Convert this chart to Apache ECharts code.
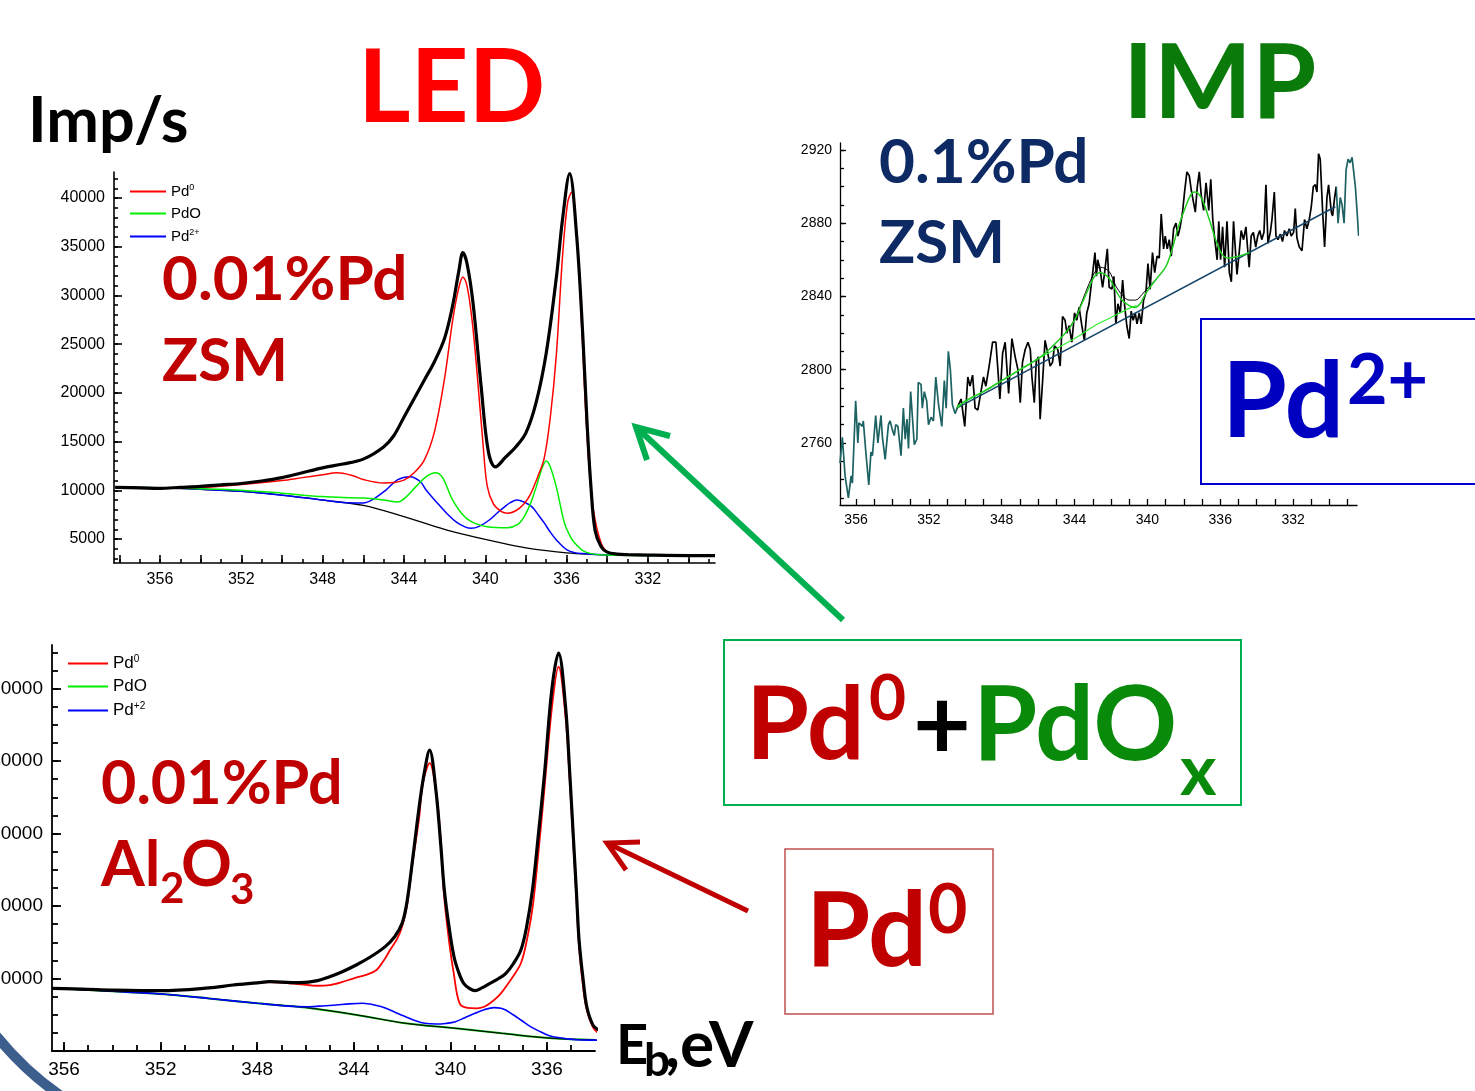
<!DOCTYPE html>
<html>
<head>
<meta charset="utf-8">
<script src="https://cdn.jsdelivr.net/npm/echarts@6/dist/echarts.min.js"></script>
<style>
  html, body { margin: 0; padding: 0; background: #fff; }
  #main { width: 1475px; height: 1091px; }
</style>
</head>
<body>
<div id="main"></div>
<script>
// ---- LED, 0.01%Pd / ZSM  (eV, imp/s)
var ledZsmExp = [[358.2,10300],[357,10250],[356,10200],[355,10300],[354,10400],[353,10550],[352,10700],[351,10950],[350,11300],[349,11800],[348,12300],[347,12700],[346,13200],[345,14450],[344.5,15600],[344,17500],[343.5,19400],[343,21300],[342.5,23200],[342,25600],[341.6,29000],[341.3,32500],[341.1,34400],[340.9,33300],[340.6,29200],[340.2,20600],[339.85,14000],[339.5,12400],[339,13400],[338.5,14450],[338,15900],[337.5,19000],[337,24100],[336.5,31900],[336.2,37800],[335.85,42500],[335.5,36000],[335.2,25800],[335,17200],[334.8,10300],[334.6,5900],[334.3,4200],[334,3650],[333.5,3450],[333,3400],[332,3350],[330,3300],[328.7,3300]];
var ledZsmPd0 = [[358.2,10300],[356,10250],[354,10300],[352,10600],[350,11000],[349,11300],[348,11600],[347.3,11800],[346.5,11500],[346,11100],[345,10750],[344.5,10800],[344,11050],[343.5,11800],[343,13100],[342.5,16000],[342,21500],[341.6,27500],[341.3,30800],[341.1,31900],[340.9,31000],[340.65,27500],[340.4,22000],[340.1,14500],[339.9,10400],[339.6,8600],[339.2,7800],[338.9,7650],[338.5,7900],[338.1,8600],[337.8,9500],[337.4,11500],[337.1,13300],[336.8,17500],[336.5,24000],[336.2,34000],[335.95,39500],[335.75,40600],[335.55,37500],[335.35,30900],[335.15,22000],[335,15800],[334.8,10000],[334.6,7000],[334.3,4600],[334,3700],[333.5,3450],[333,3400],[331,3330],[328.7,3300]];
var ledZsmPdO = [[358.2,10300],[356,10250],[354,10150],[352,10000],[350,9700],[348,9350],[346,9200],[345,9000],[344.3,8800],[343.9,9300],[343.4,10400],[342.9,11400],[342.45,11800],[342.1,11300],[341.6,9000],[341,7250],[340.5,6600],[339.9,6250],[338.9,6150],[338.4,6500],[338.1,7250],[337.8,8500],[337.5,10300],[337.2,12300],[337,13000],[336.8,12400],[336.5,10300],[336.1,6600],[335.8,5200],[335.6,4600],[335.2,3800],[334.8,3500],[334,3350],[332,3300],[328.7,3300]];
var ledZsmPd2 = [[358.2,10300],[356,10250],[354,10100],[352,9900],[350,9500],[348,9000],[347,8750],[346,8700],[345.5,9100],[344.9,10000],[344.3,11100],[343.7,11400],[343.2,10900],[342.9,10000],[342.4,8800],[341.9,7650],[341.4,6700],[341,6250],[340.7,6100],[340.3,6300],[339.8,6950],[339.4,7700],[339.05,8300],[338.75,8750],[338.45,9000],[338.1,8800],[337.7,8300],[337.4,7500],[337.1,6650],[336.8,5700],[336.5,4900],[336,3900],[335.6,3600],[335.2,3500],[334.5,3400],[333,3330],[328.7,3300]];
var ledZsmBg = [[358.2,10300],[356,10250],[354,10100],[352,9880],[350,9500],[348,9000],[346,8450],[344,7300],[342,6000],[341,5450],[340,4950],[339,4500],[338,4100],[337,3800],[336,3580],[335,3450],[334,3380],[332,3330],[328.7,3300]];
var ledZsmYLabels = [5000,10000,15000,20000,25000,30000,35000,40000];
var ledZsmXLabels = [356,352,348,344,340,336,332];

// ---- IMP, 0.1%Pd / ZSM
var impRaw = [[356.88,2749],[356.75,2763],[356.6,2742],[356.42,2730],[356.27,2742],[356.2,2738],[356.02,2783],[355.9,2760],[355.84,2771],[355.65,2769],[355.6,2772],[355.47,2756],[355.3,2737],[355.18,2755],[355.1,2753],[354.92,2775],[354.8,2760],[354.63,2775],[354.55,2763],[354.4,2751],[354.22,2770],[354.13,2772],[354,2767],[353.9,2764],[353.82,2770],[353.7,2769],[353.53,2753],[353.4,2779],[353.3,2762],[353.2,2773],[353.12,2757],[353,2788],[352.8,2759],[352.66,2762],[352.58,2793],[352.43,2792],[352.36,2779],[352.25,2788],[352.12,2783],[352.02,2770],[351.88,2774],[351.75,2772],[351.62,2796],[351.47,2781],[351.38,2780],[351.29,2769],[351.15,2794],[351.05,2779],[350.93,2810],[350.82,2800],[350.71,2781],[350.56,2776],[350.41,2780],[350.23,2784],[350.03,2769],
[349.86,2796],[349.74,2791],[349.6,2797],[349.46,2779],[349.31,2778],[349.19,2785],[349,2796],[348.87,2791],[348.69,2802],[348.5,2815],[348.32,2815],[348.21,2800],[348.1,2784],[347.95,2809],[347.81,2815],[347.62,2787],[347.44,2817],[347.26,2807],[347.11,2800],[346.98,2782],[346.86,2804],[346.71,2811],[346.56,2815],[346.43,2811],[346.34,2796],[346.21,2782],[346.1,2805],[345.98,2807],[345.89,2773],[345.76,2793],[345.62,2816],[345.47,2809],[345.34,2802],[345.21,2804],[345.1,2813],[344.92,2811],[344.79,2802],[344.66,2829],[344.52,2827],[344.42,2820],[344.3,2824],[344.15,2815],[344,2831],[343.88,2827],[343.75,2834],[343.6,2824],[343.46,2816],[343.33,2831],[343.2,2836],[343.1,2845],[342.98,2855],[342.88,2864],[342.8,2851],[342.73,2860],[342.6,2855],[342.46,2845],[342.35,2853],[342.2,2866],[342.1,2845],[341.95,2844],[341.84,2851],[341.73,2825],[341.62,2836],[341.49,2831],[341.36,2849],[341.25,2835],[341.13,2824],[341,2817],[340.89,2832],[340.78,2827],[340.67,2831],[340.57,2825],[340.45,2831],[340.34,2825],[340.21,2838],[340.08,2842],[339.97,2858],[339.85,2844],[339.72,2864],[339.6,2853],[339.47,2862],[339.35,2861],[339.24,2885],[339.11,2866],[339.02,2873],[338.91,2866],[338.8,2871],[338.69,2862],[338.56,2877],[338.43,2880],[338.32,2873],[338.2,2878],[338.07,2886],[337.96,2897],[337.83,2908],[337.7,2906],[337.59,2898],[337.46,2891],[337.37,2886],[337.26,2900],[337.15,2908],[337.04,2895],[336.91,2887],[336.78,2902],[336.63,2887],[336.52,2904],[336.41,2882],[336.3,2871],[336.17,2860],[336.08,2881],[335.98,2860],[335.87,2878],[335.76,2856],[335.63,2881],[335.5,2853],[335.39,2848],[335.27,2881],[335.08,2852],[334.96,2864],[334.85,2876],[334.72,2871],[334.59,2878],[334.48,2864],[334.41,2856],[334.3,2873],[334.18,2875],[334.05,2867],[333.94,2873],[333.83,2876],[333.72,2871],[333.6,2875],[333.49,2901],[333.38,2869],[333.25,2875],[333.16,2882],[333.03,2897],[332.94,2873],[332.83,2871],[332.7,2874],[332.58,2870],[332.47,2876],[332.34,2873],[332.21,2877],[332.1,2873],[331.97,2875],[331.88,2888],[331.79,2872],[331.66,2867],[331.51,2865],[331.37,2882],[331.24,2877],[331.11,2882],[331,2889],[330.89,2900],[330.78,2901],[330.69,2897],[330.6,2918],[330.51,2915],[330.38,2887],[330.27,2867],[330.14,2894],[330.05,2901],[329.9,2886],[329.83,2884],[329.72,2894],[329.63,2900],[329.53,2880],[329.41,2894],[329.31,2890],[329.2,2880],[329.09,2909],[328.98,2915],[328.87,2913],[328.76,2916],[328.67,2917],[328.58,2900],[328.49,2887],[328.4,2873]];
var impBase = [[350.47,2779],[329.68,2889]];
var impFit = [[350.45,2779],[350,2783],[349,2788],[348,2794],[347,2800],[346,2806],[345.4,2811],[344.5,2820],[344,2827],[343.6,2836],[343.2,2845],[342.9,2851],[342.6,2853],[342.1,2850],[341.75,2843.5],[341.4,2838],[341,2835],[340.7,2834],[340.4,2836],[340.1,2841.5],[339.55,2849],[339,2856],[338.65,2865.5],[338.3,2878],[337.9,2889],[337.55,2896.5],[337.35,2897],[337,2893],[336.6,2882],[336.25,2871],[335.9,2863],[335.55,2861],[335.2,2861.5],[334.8,2862.5],[334.4,2864]];
var impTail = [[350.45,2780],[348,2794],[346,2806],[344,2817],[342.9,2824],[342,2828.5],[341,2833.5],[340.6,2835]];
var impEnv = [[344.5,2820],[344,2827.5],[343.6,2837],[343.2,2847],[342.9,2853],[342.6,2856],[342.1,2853.6],[341.75,2846],[341.4,2841],[341,2838],[340.65,2838],[340.3,2841],[339.9,2845.5],[339.55,2849]];
var impYLabels = [2760,2800,2840,2880,2920];
var impXLabels = [356,352,348,344,340,336,332];

// ---- LED, 0.01%Pd / Al2O3
var ledAlExp = [[356.5,8650],[355,8500],[354,8400],[352,8320],[350,8700],[349,9100],[348,9400],[347.5,9560],[347,9500],[346.2,9420],[345.5,9700],[345,10250],[344.5,10900],[343.9,11860],[343.3,13000],[342.7,14400],[342.3,15800],[342,17600],[341.8,20500],[341.55,26800],[341.3,33500],[341.1,38000],[340.86,41500],[340.6,36000],[340.4,28500],[340.25,22200],[340.05,17000],[339.85,13000],[339.65,10800],[339.45,9340],[339.2,8600],[338.98,8320],[338.7,8700],[338.36,9340],[338,10000],[337.7,10720],[337.4,12000],[337.08,13930],[336.85,17000],[336.6,22200],[336.35,30000],[336.1,38300],[335.8,49800],[335.52,54900],[335.23,47500],[335.05,38000],[334.9,29100],[334.78,22000],[334.67,15300],[334.5,9800],[334.35,6100],[334.1,3600],[333.87,2900]];
var ledAlPd0 = [[356.5,8650],[355,8500],[354,8400],[352,8320],[350,8700],[349,9100],[348,9400],[347.5,9500],[347,9450],[346.2,9200],[345.5,9000],[345,9100],[344.5,9500],[344,10030],[343.5,10500],[343.06,11170],[342.7,12800],[342.5,13930],[342.2,15500],[342,17140],[341.8,20000],[341.55,26350],[341.3,32000],[341.14,36900],[340.86,39700],[340.58,35500],[340.4,29000],[340.27,21800],[340.05,15000],[339.86,10700],[339.62,6600],[339.3,5950],[338.9,5890],[338.6,6100],[338.36,6580],[338,7600],[337.7,8870],[337.4,10300],[337.08,12100],[336.85,15000],[336.59,19900],[336.35,27500],[336.11,36000],[335.79,47500],[335.52,53000],[335.23,46100],[335.05,37000],[334.9,28200],[334.78,21000],[334.67,14400],[334.5,8800],[334.35,5650],[334.1,3300],[333.87,2440]];
var ledAlPd2 = [[356.5,8650],[354,8250],[352,7860],[350,7250],[348,6580],[346.5,6150],[345.86,6110],[345.2,6250],[344.74,6340],[344.2,6500],[343.62,6580],[343.1,6300],[342.67,5890],[342.2,5200],[341.86,4730],[341.5,4250],[341.06,3820],[340.58,3720],[340.2,3800],[339.79,4040],[339.4,4600],[338.98,5200],[338.6,5700],[338.19,5980],[337.9,5900],[337.71,5650],[337.4,5000],[337.08,4280],[336.7,3400],[336.27,2660],[335.9,2100],[335.63,1890],[335.2,1700],[334.67,1520],[333.87,1500]];
var ledAlBg = [[356.5,8650],[354,8250],[352,7860],[350,7250],[348,6580],[346,6000],[343.87,4970],[341.86,3820],[339.79,3130],[337.87,2440],[335.79,1750],[333.87,1520]];
var ledAlYLabels = [10000,20000,30000,40000,50000];
var ledAlXLabels = [356,352,348,344,340,336];

function steps(a, b, s) {
    var r = [];
    for (var v = a; v <= b + 1e-9; v += s) r.push(Math.round(v * 1000) / 1000);
    return r;
}

// one visible axis (line, labels, major ticks) plus one bare axis for the minor ticks
function axisPair(dim, gi, min, max, labels, major, minor, o) {
    var pos = dim === 'x' ? 'bottom' : 'left';
    var main = {
        type: 'value', gridIndex: gi, min: min, max: max, position: pos, inverse: dim === 'x',
        splitLine: { show: false },
        axisLine: { show: true, onZero: false, lineStyle: { color: '#000', width: o.lw } },
        axisTick: { show: true, inside: true, length: o.major, customValues: major, lineStyle: { color: '#000', width: o.lw } },
        axisLabel: {
            customValues: labels, color: '#000', fontSize: o.fs, fontFamily: 'Liberation Sans', margin: o.margin,
            formatter: function (v) { return String(v); }
        }
    };
    var sub = {
        type: 'value', gridIndex: gi, min: min, max: max, position: pos, inverse: dim === 'x',
        splitLine: { show: false },
        axisLine: { show: false, onZero: false },
        axisTick: { show: true, inside: true, length: o.minor, customValues: minor, lineStyle: { color: '#000', width: o.lw } },
        axisLabel: { show: false }
    };
    return [main, sub];
}

var o1 = { lw: 1.6, fs: 16, margin: 9, major: 8, minor: 4 };
var o2 = { lw: 1.3, fs: 14, margin: 8, major: 6, minor: 4 };
var o3 = { lw: 1.8, fs: 19, margin: 9, major: 9, minor: 6 };

var xAxes = [].concat(
    axisPair('x', 0, 328.7, 358.26, ledZsmXLabels, steps(330, 358, 2), steps(329, 358, 1), o1),
    axisPair('x', 1, 328.49, 356.88, impXLabels, steps(329, 356, 1), [], o2),
    axisPair('x', 2, 334.01, 356.5, ledAlXLabels, ledAlXLabels, steps(335, 356, 1), o3)
);
var yAxes = [].concat(
    axisPair('y', 0, 2537, 42669, ledZsmYLabels, ledZsmYLabels, steps(3000, 42000, 1000), o1),
    axisPair('y', 1, 2726.1, 2923.8, impYLabels, impYLabels, steps(2730, 2920, 10), o2),
    axisPair('y', 2, 0, 56000, ledAlYLabels, ledAlYLabels, steps(2500, 55000, 2500), o3)
);

function line(name, data, xi, yi, color, width, smooth) {
    var s = {
        name: name, type: 'line', data: data, xAxisIndex: xi, yAxisIndex: yi,
        symbol: 'none', smooth: smooth, clip: true,
        lineStyle: { width: width }
    };
    if (color) { s.lineStyle.color = color; s.itemStyle = { color: color }; }
    return s;
}

var series = [
    line('bg1', ledZsmBg, 0, 0, '#000', 1.3, 0.35),
    line('Pd2+', ledZsmPd2, 0, 0, '#0000ff', 1.5, 0.35),
    line('PdO', ledZsmPdO, 0, 0, '#00ee00', 1.5, 0.35),
    line('Pd0', ledZsmPd0, 0, 0, '#ff0000', 1.5, 0.35),
    line('exp1', ledZsmExp, 0, 0, '#000', 3.2, 0.35),

    line('raw2', impRaw, 2, 2, null, 1.7, false),
    line('base2', impBase, 2, 2, '#16456a', 1.5, false),
    line('tail2', impTail, 2, 2, '#33ee33', 1.2, 0.35),
    line('env2', impEnv, 2, 2, '#000', 1, 0.35),
    line('fit2', impFit, 2, 2, '#22cc22', 1.5, 0.35),

    line('PdO', ledAlBg, 4, 4, '#00aa00', 2, 0.35),
    line('bg3', ledAlBg, 4, 4, '#000', 1, 0.35),
    line('Pd+2', ledAlPd2, 4, 4, '#0000ff', 1.6, 0.35),
    line('Pd0', ledAlPd0, 4, 4, '#ff0000', 1.8, 0.35),
    line('exp3', ledAlExp, 4, 4, '#000', 3.2, 0.35)
];

var legendText = { 'Pd0': '{b|Pd}{s|0}', 'PdO': '{b|PdO}', 'Pd2+': '{b|Pd}{s|2+}', 'Pd+2': '{b|Pd}{s|+2}' };
function legendBox(left, top, names, fs, iw, gap) {
    return {
        orient: 'vertical', left: left, top: top, data: names, icon: 'rect',
        itemWidth: iw, itemHeight: 2, itemGap: gap, padding: 0, selectedMode: false,
        formatter: function (n) { return legendText[n]; },
        textStyle: {
            rich: {
                b: { fontSize: fs, fontFamily: 'Liberation Sans', color: '#000', lineHeight: fs + 2 },
                s: { fontSize: Math.round(fs * 0.6), fontFamily: 'Liberation Sans', color: '#000', verticalAlign: 'top', lineHeight: fs * 0.6 }
            }
        }
    };
}

function txt(x, y, s, size, color) {
    return { type: 'text', x: x, y: y, z: 100,
        style: { text: s, font: 'bold ' + size + 'px Lato', fill: color, textVerticalAlign: 'middle' } };
}
function box(x, y, w, h, color, lw) {
    return { type: 'rect', z: 90, shape: { x: x, y: y, width: w, height: h },
        style: { fill: '#fff', stroke: color, lineWidth: lw } };
}
function arrow(x1, y1, x2, y2, a1, a2, color, lw) {
    return [
        { type: 'line', z: 95, shape: { x1: x1, y1: y1, x2: x2, y2: y2 }, style: { stroke: color, lineWidth: lw } },
        { type: 'polyline', z: 95, shape: { points: [a1, [x2, y2], a2] }, style: { stroke: color, lineWidth: lw, fill: null, lineJoin: 'miter' } }
    ];
}

var graphics = [
    txt(28, 122, 'Imp/s', 63, '#000'),
    txt(358, 89, 'LED', 101, '#ff0000'),
    txt(1123, 84, 'IMP', 104, '#0a7a0a'),
    txt(162, 280, '0.01%Pd', 62, '#c00000'),
    txt(162, 362, 'ZSM', 60, '#c00000'),
    txt(879, 163, '0.1%Pd', 62, '#0d2a64'),
    txt(879, 244, 'ZSM', 60, '#0d2a64'),
    txt(101, 784, '0.01%Pd', 61, '#c00000'),
    txt(101, 866, 'Al', 63, '#c00000'),
    txt(160, 889, '2', 42, '#c00000'),
    txt(181, 866, 'O', 63, '#c00000'),
    txt(230, 890, '3', 42, '#c00000'),
    txt(616, 1046, 'E', 56, '#000'),
    txt(644, 1061, 'b', 46, '#000'),
    txt(665, 1046, ',eV', 64, '#000'),
    { type: 'bezierCurve', z: 95, shape: { x1: -6, y1: 1033, cpx1: 14, cpy1: 1058, cpx2: 34, cpy2: 1078, x2: 64, y2: 1098 },
      style: { stroke: '#3b5e8c', lineWidth: 10, fill: null } },
    box(1201, 319, 290, 165, '#0000cc', 2),
    txt(1222, 403, 'Pd', 105, '#0000c0'),
    txt(1347, 381, '2+', 70, '#0000c0'),
    box(724, 640, 517, 165, '#00b050', 2),
    txt(746, 726, 'Pd', 102, '#c00000'),
    txt(869, 699, '0', 64, '#c00000'),
    txt(913, 727, '+', 100, '#000'),
    txt(973, 726, 'PdO', 104, '#0a8a0a'),
    txt(1180, 772, 'x', 70, '#0a8a0a'),
    box(785, 849, 208, 165, '#c0504d', 1.5),
    txt(806, 932, 'Pd', 104, '#c00000'),
    txt(928, 911, '0', 68, '#c00000')
].concat(
    arrow(843, 620, 636, 427, [670, 436], [647, 460], '#00b050', 6),
    arrow(748, 911, 607, 843, [640, 842], [626, 870], '#c00000', 5)
);

var myChart = echarts.init(document.getElementById('main'));
var option = {
    animation: false,
    backgroundColor: '#fff',
    grid: [
        { left: 114, top: 172, width: 601, height: 391, outerBoundsMode: 'none', containLabel: false },
        { left: 840, top: 143, width: 517, height: 362, outerBoundsMode: 'none', containLabel: false },
        { left: 52, top: 645, width: 543, height: 406, outerBoundsMode: 'none', containLabel: false }
    ],
    xAxis: xAxes,
    yAxis: yAxes,
    legend: [
        legendBox(130, 183, ['Pd0', 'PdO', 'Pd2+'], 15, 36, 7),
        legendBox(68, 654, ['Pd0', 'PdO', 'Pd+2'], 17, 40, 6)
    ],
    visualMap: [{
        type: 'piecewise', show: false, dimension: 0, seriesIndex: 5,
        pieces: [
            { lt: 329.65, color: '#1d6262' },
            { gte: 329.65, lte: 350.45, color: '#000' },
            { gt: 350.45, color: '#1d6262' }
        ]
    }],
    series: series,
    graphic: graphics
};
myChart.setOption(option);
</script>
</body>
</html>
